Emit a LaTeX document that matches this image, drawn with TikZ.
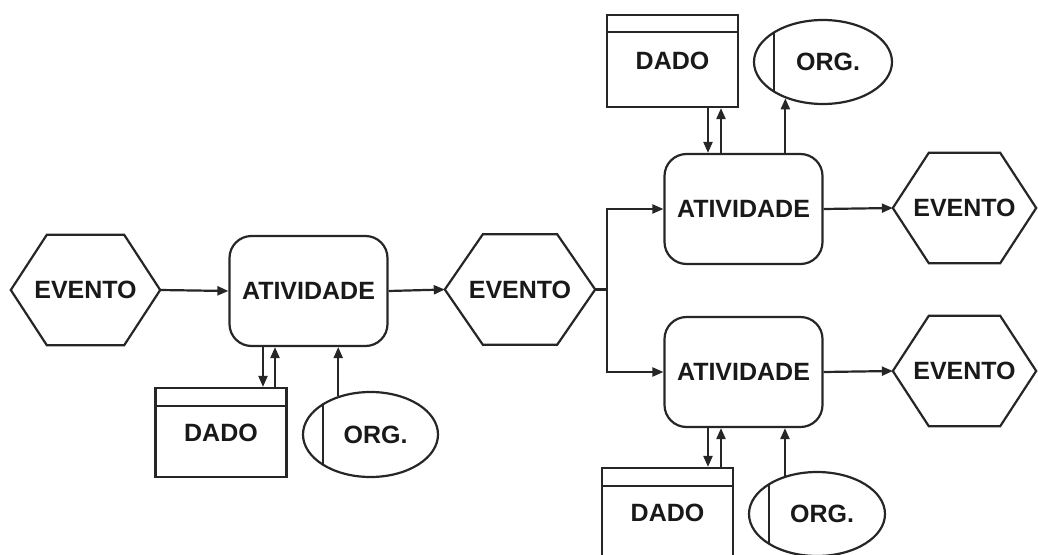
\documentclass[tikz,border=0pt]{standalone}
\usepackage{fontspec}
\setmainfont{Liberation Sans}
\usetikzlibrary{shapes.geometric,arrows.meta}

\begin{document}
\begin{tikzpicture}[x=1pt,y=-1pt,
  ink/.style={draw=black!85, line width=2.2pt},
  every node/.style={font=\fontsize{25}{29}\selectfont\bfseries, inner sep=0pt, text=black!90},
  flow/.style={ink, -{Triangle[length=11pt,width=9pt]}},
  evento/.style={rectangle, minimum height=110pt, minimum width=#1},
  hexline/.style={ink, line join=miter},
  atividade/.style={ink, rectangle, rounded corners=22pt,
    minimum width=158pt, minimum height=110pt},
  dado/.style={ink, rectangle, minimum width=131pt, minimum height=#1},
  org/.style={ink, ellipse, minimum width=136pt, minimum height=84pt,
    execute at begin node=\hspace*{10pt},
    path picture={\draw[ink] ([xshift=20pt]path picture bounding box.north west)
      -- ([xshift=20pt]path picture bounding box.south west);}}
]
\useasboundingbox (0,0) rectangle (1038,554);

% events: text nodes with a hexagonal outline around them
\node[evento=149pt] (ev1) at (85.5,290) {EVENTO};
\node[evento=150pt] (ev2) at (520,289.5) {EVENTO};
\node[evento=143pt] (ev3) at (964.5,208) {EVENTO};
\node[evento=143pt] (ev4) at (964.5,371) {EVENTO};
\foreach \n/\s in {ev1/36, ev2/38, ev3/36, ev4/36}
  \draw[hexline] (\n.west) -- ([xshift=\s pt]\n.north west)
    -- ([xshift=-\s pt]\n.north east) -- (\n.east)
    -- ([xshift=-\s pt]\n.south east) -- ([xshift=\s pt]\n.south west) -- cycle;

% activities
\node[atividade] (a1) at (308.5,291) {ATIVIDADE};
\node[atividade] (a2) at (743.5,209) {ATIVIDADE};
\node[atividade] (a3) at (743.5,372) {ATIVIDADE};

% data stores with a header strip
\node[dado=89pt] (d1) at (221,432.5) {DADO};
\node[dado=92pt] (d2) at (672.5,61) {DADO};
\node[dado=90pt] (d3) at (667.5,513) {DADO};
\draw[ink] ([yshift=-19pt]d1.north west) -- ([yshift=-19pt]d1.north east);
\draw[ink] ([yshift=-18pt]d2.north west) -- ([yshift=-18pt]d2.north east);
\draw[ink] ([yshift=-19pt]d3.north west) -- ([yshift=-19pt]d3.north east);

% organisational units
\node[org, minimum width=135pt, minimum height=85pt] (o1) at (370.5,434.5) {ORG.};
\node[org, minimum width=138pt] (o2) at (823,62) {ORG.};
\node[org] (o3) at (817,514) {ORG.};

% main flow
\draw[flow] (ev1.east) -- (a1.west);
\draw[flow] (a1.east) -- (ev2.west);
\draw[ink] (ev2.east) -- ++(12,0) coordinate (j);
\draw[flow] (j) |- (a2.west);
\draw[flow] (j) |- (a3.west);
\draw[flow] (a2.east) -- (ev3.west);
\draw[flow] (a3.east) -- (ev4.west);

% data exchange
\draw[flow] ([xshift=42pt]d1.north |- a1.south) -- ([xshift=42pt]d1.north);
\draw[flow] ([xshift=54pt]d1.north) -- ([xshift=54pt]d1.north |- a1.south);
\draw[flow] ([xshift=35.5pt]d2.south) -- ([xshift=35.5pt]d2.south |- a2.north);
\draw[flow] ([xshift=48.5pt]d2.south |- a2.north) -- ([xshift=48.5pt]d2.south);
\draw[flow] ([xshift=40.5pt]d3.north |- a3.south) -- ([xshift=40.5pt]d3.north);
\draw[flow] ([xshift=53.5pt]d3.north) -- ([xshift=53.5pt]d3.north |- a3.south);

% organisational links
\draw[flow] (o1.130) -- (o1.130 |- a1.south);
\draw[flow] (o2.224 |- a2.north) -- (o2.224);
\draw[flow] (o3.130) -- (o3.130 |- a3.south);
\end{tikzpicture}
\end{document}
